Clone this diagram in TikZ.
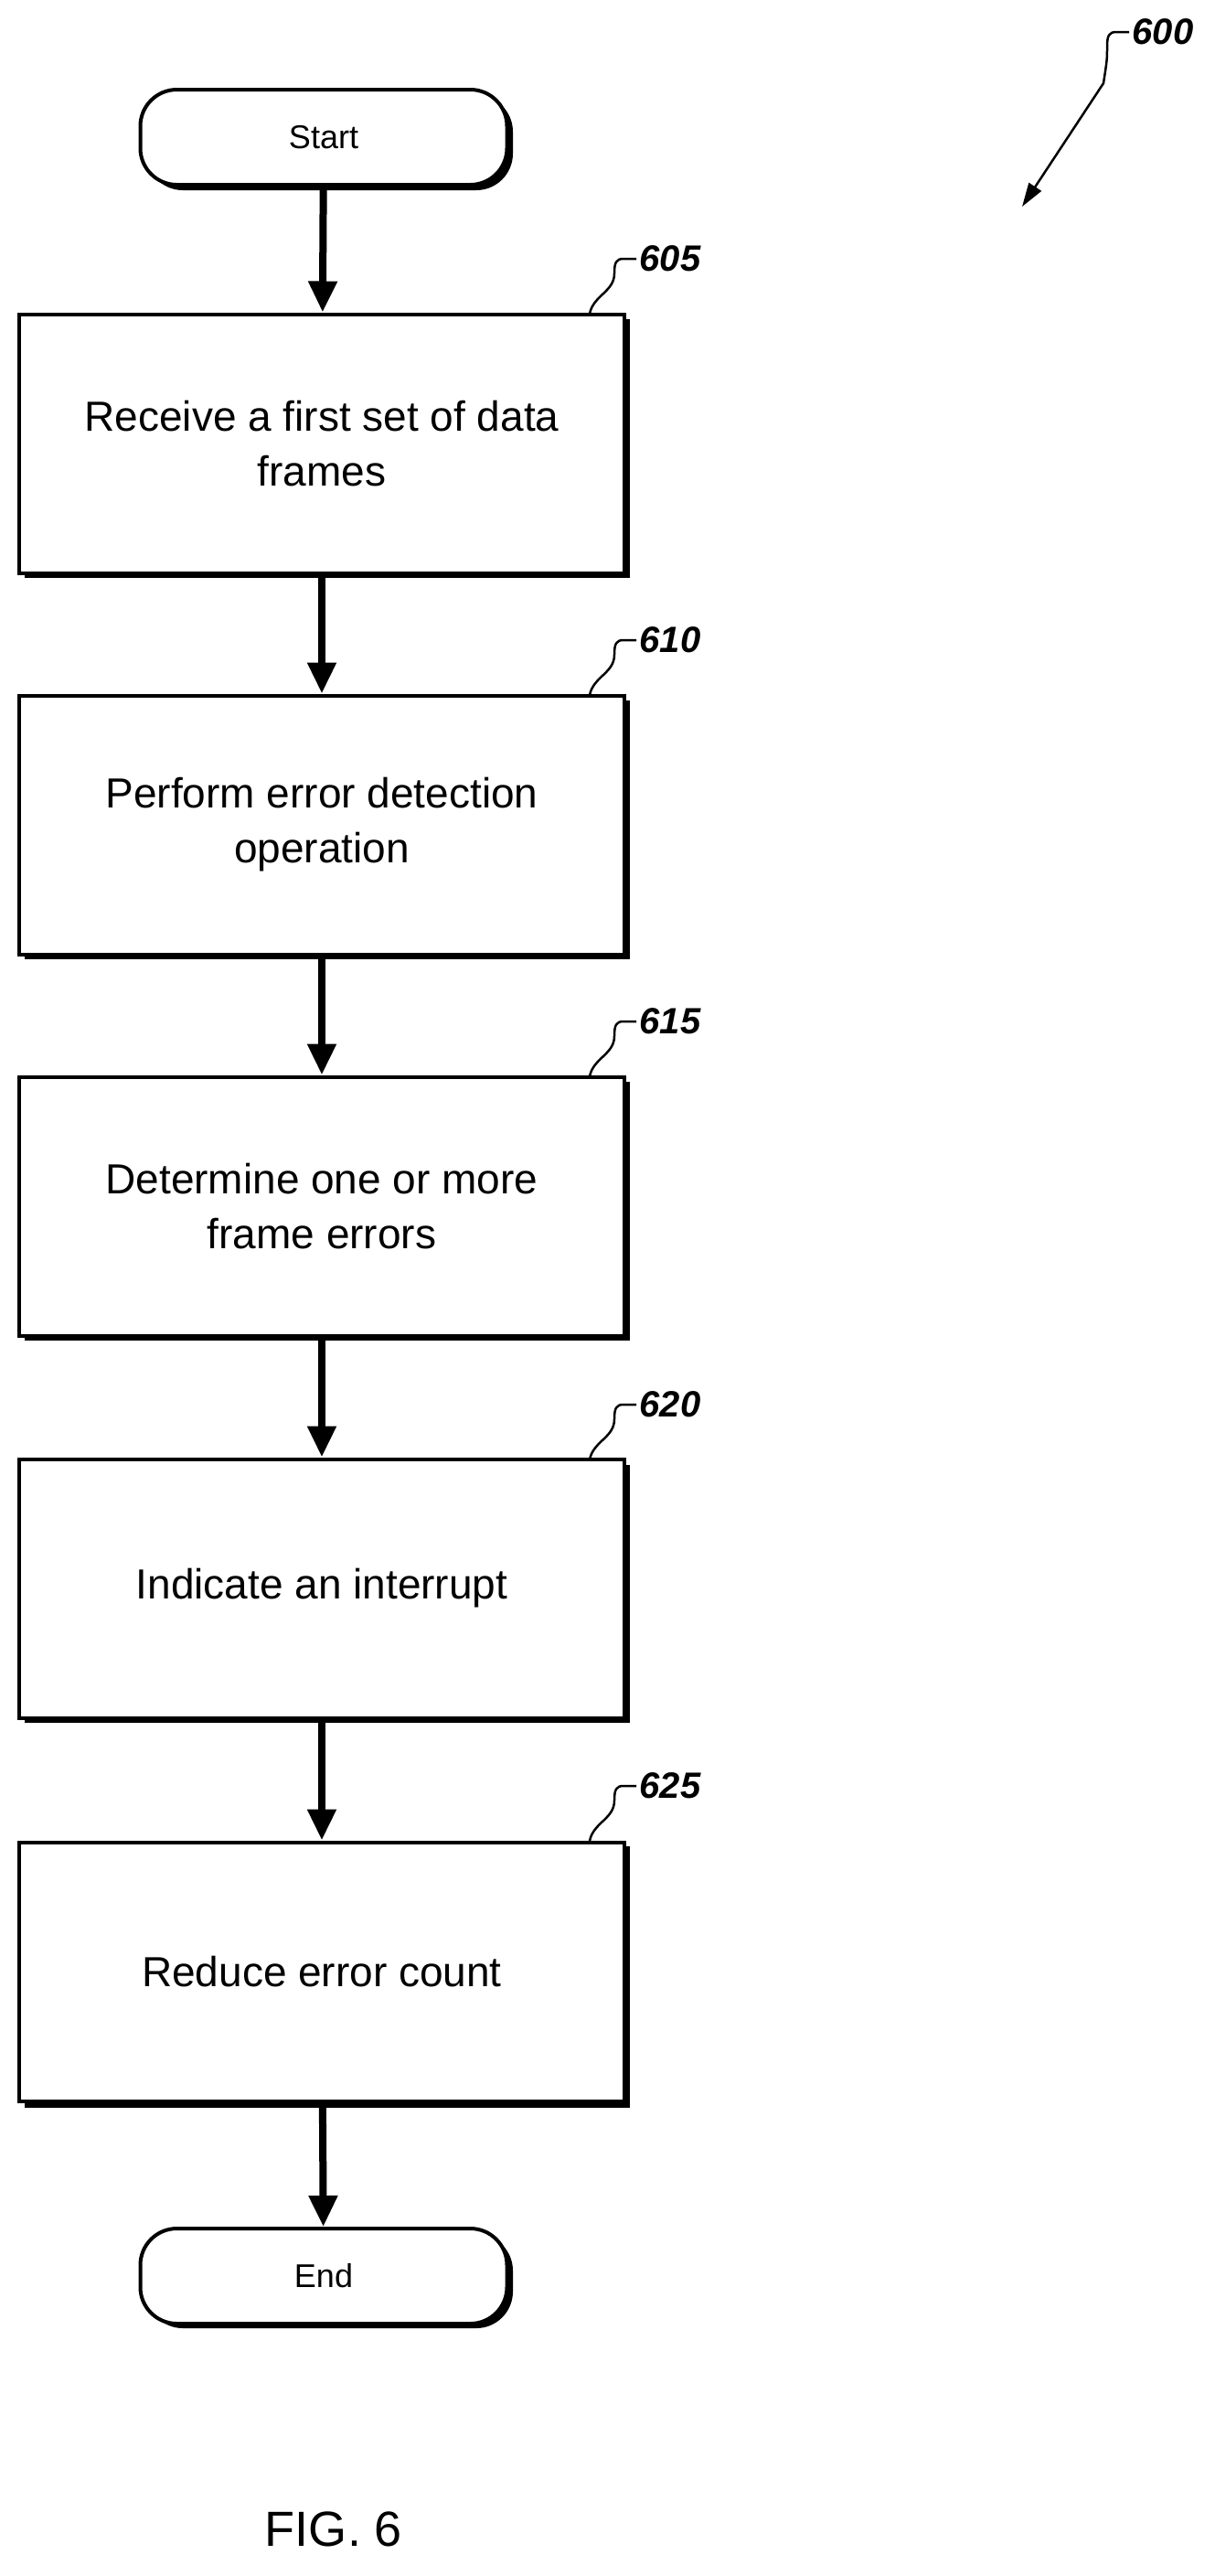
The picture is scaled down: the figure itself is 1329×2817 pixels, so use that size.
\documentclass[tikz,border=0pt]{standalone}
\usepackage{fontspec}
\setmainfont{Liberation Sans}
\usetikzlibrary{arrows.meta,shapes.misc}
\begin{document}
\begin{tikzpicture}[x=1pt,y=-1pt,
  box/.style={draw,line width=4pt,fill=white,minimum width=662pt,minimum height=283pt,align=center,
    font=\fontsize{46}{60}\selectfont},
  term/.style={draw,line width=4pt,fill=white,rounded corners=40pt,minimum width=401pt,minimum height=104pt,font=\fontsize{36}{40}\selectfont},
  flow/.style={line width=8pt,-{Triangle[length=34pt,width=30pt]}},
  lbl/.style={font=\bfseries\itshape\fontsize{40}{44}\selectfont,anchor=west},
  sq/.style={line width=2.5pt}]
\useasboundingbox (0,0) rectangle (1329,2817);
% shadows
\foreach \y/\h in {343/283,760/283,1177/283,1596/282,2013/286}{
  \fill (27,\y+6) rectangle (689,\y+\h+6);}
\fill[rounded corners=40pt] (160,104) rectangle (561,208);
\fill[rounded corners=40pt] (160,2443) rectangle (561,2546);
\node[term] (start) at (354,150) {Start};
\node[term] (end) at (354,2489) {End};
\node[box] (b605) at (352,485) {Receive a first set of data\\frames};
\node[box] (b610) at (352,902) {Perform error detection\\operation};
\node[box] (b615) at (352,1319) {Determine one or more\\frame errors};
\node[box] (b620) at (352,1737) {Indicate an interrupt};
\node[box] (b625) at (352,2156) {Reduce error count};
\draw[flow] (start) -- (b605);
\draw[flow] (b605) -- (b610);
\draw[flow] (b610) -- (b615);
\draw[flow] (b615) -- (b620);
\draw[flow] (b620) -- (b625);
\draw[flow] (b625) -- (end);
% labels
\foreach \n/\y in {605/283,610/700,615/1117,620/1536,625/1953}{
  \node[lbl] (l\n) at (696,\y) {\n};
  \draw[sq] (l\n.west) -- ++(-14,0) .. controls ++(-8,0) and ++(0,-12) .. ++(-10,16) .. controls ++(0,20) and ++(4,-20) .. (645,\y+60);
}
\node[lbl] (l600) at (1235,35) {600};
\coordinate (a600) at (1118,226);
\draw[line width=2.5pt,-{Triangle[length=26pt,width=16pt]}] (l600.west) -- ++(-14,0) .. controls ++(-8,0) and ++(0,-12) .. ++(-10,16) .. controls ++(0,14) .. ++(-4,40) -- (a600);
\node[font=\fontsize{54}{60}\selectfont] (fig) at (365,2766) {FIG. 6};
\end{tikzpicture}
\end{document}
